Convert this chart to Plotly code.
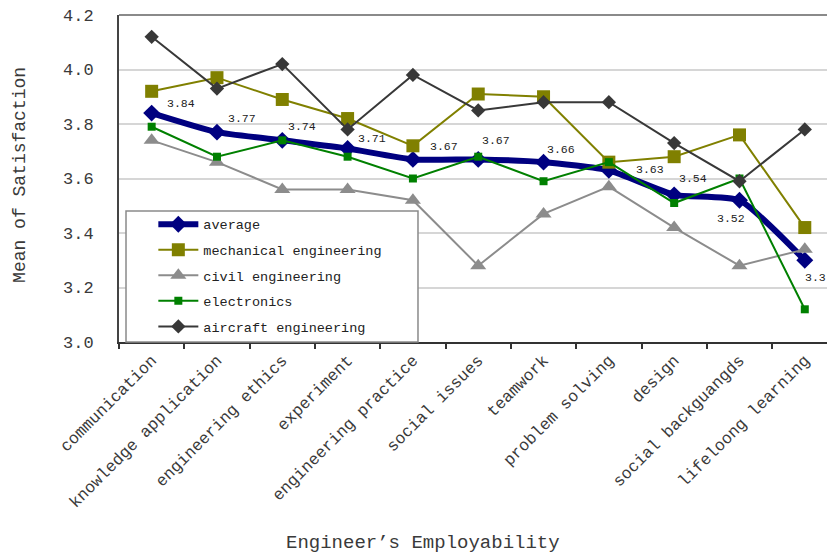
import plotly.graph_objects as go

# Employability attributes on the category axis
skills = [
    "communication", "knowledge application", "engineering ethics",
    "experiment", "engineering practice", "social issues", "teamwork",
    "problem solving", "design", "social backguangds", "lifeloong learning",
]

# Mean satisfaction per discipline
average = [3.84, 3.77, 3.74, 3.71, 3.67, 3.67, 3.66, 3.63, 3.54, 3.52, 3.3]
mechanical = [3.92, 3.97, 3.89, 3.82, 3.72, 3.91, 3.90, 3.66, 3.68, 3.76, 3.42]
civil = [3.74, 3.66, 3.56, 3.56, 3.52, 3.28, 3.47, 3.57, 3.42, 3.28, 3.34]
electronics = [3.79, 3.68, 3.74, 3.68, 3.60, 3.68, 3.59, 3.66, 3.51, 3.60, 3.12]
aircraft = [4.12, 3.93, 4.02, 3.78, 3.98, 3.85, 3.88, 3.88, 3.73, 3.59, 3.78]

y_ticks = [3.0, 3.2, 3.4, 3.6, 3.8, 4.0, 4.2]

MONO = "Liberation Mono, Courier New, monospace"
TEXT = "#3a3a3a"

fig = go.Figure()

fig.add_trace(go.Scatter(
    x=skills, y=average, name="average", mode="lines+markers",
    line=dict(color="#000080", width=6, shape="spline", smoothing=0.5),
    marker=dict(symbol="diamond", size=13, color="#000080"),
    legendgroup="a",
))
fig.add_trace(go.Scatter(
    x=skills, y=mechanical, name="mechanical engineering", mode="lines+markers",
    line=dict(color="#808000", width=2),
    marker=dict(symbol="square", size=13, color="#808000"),
    legendgroup="b",
))
fig.add_trace(go.Scatter(
    x=skills, y=civil, name="civil engineering", mode="lines+markers",
    line=dict(color="#8c8c8c", width=2),
    marker=dict(symbol="triangle-up", size=14, color="#8c8c8c"),
    legendgroup="c",
))
fig.add_trace(go.Scatter(
    x=skills, y=electronics, name="electronics", mode="lines+markers",
    line=dict(color="#008000", width=2),
    marker=dict(symbol="square", size=8, color="#008000"),
    legendgroup="d",
))
fig.add_trace(go.Scatter(
    x=skills, y=aircraft, name="aircraft engineering", mode="lines+markers",
    line=dict(color="#383838", width=2),
    marker=dict(symbol="diamond", size=11, color="#383838"),
    legendgroup="e",
))

# Value labels for the average series (pixel nudges per point)
label_shift = [(29, 10), (25, 14), (20, 14), (24, 10), (31, 13), (18, 19),
               (17, 13), (41, 1), (19, 16), (-8, -18), (11, -17)]
for name, val, (dx, dy) in zip(skills, average, label_shift):
    fig.add_annotation(
        x=name, y=val, text=f"{val:g}", showarrow=False,
        xshift=dx, yshift=dy, font=dict(family=MONO, size=11.5, color="#222"),
    )

# Axis titles
fig.add_annotation(
    xref="paper", yref="paper", x=-0.1398, y=0.511, text="Mean of Satisfaction",
    xanchor="center", yanchor="middle",
    textangle=-90, showarrow=False, font=dict(family=MONO, size=18, color=TEXT),
)
fig.add_annotation(
    xref="paper", yref="paper", x=0.4287, y=-0.6147, text="Engineer’s Employability",
    xanchor="center", yanchor="middle",
    showarrow=False, font=dict(family=MONO, size=19, color=TEXT),
)

# White legend panel
fig.add_shape(
    type="rect", xref="paper", yref="paper", x0=0.0099, x1=0.4223, y0=0, y1=0.4006,
    fillcolor="white", line=dict(color="#8a8a8a", width=1.5), layer="above",
)

fig.update_layout(
    width=827, height=558,
    margin=dict(l=119, r=0, t=15, b=216),
    paper_bgcolor="white", plot_bgcolor="white",
    showlegend=True,
    legend=dict(
        x=0.0485, y=0.407, xanchor="left", yanchor="top",
        bgcolor="rgba(0,0,0,0)", borderwidth=0,
        font=dict(family=MONO, size=13.5, color="#222"),
        tracegroupgap=5, itemwidth=40,
    ),
    xaxis=dict(
        type="category", range=[-0.5, 10.34],
        tickangle=-45, tickson="boundaries", ticks="outside", ticklen=5,
        tickcolor="#333", tickwidth=1.5,
        showline=True, linecolor="#333", linewidth=2, mirror=False,
        showgrid=False,
        tickfont=dict(family=MONO, size=16.5, color=TEXT),
    ),
    yaxis=dict(
        range=[3.0, 4.2], tickvals=y_ticks, ticktext=[f"{v:.1f}" for v in y_ticks],
        showgrid=True, gridcolor="#d6d6d6", gridwidth=2,
        showline=True, linecolor="#444", linewidth=2,
        ticks="", ticklabelstandoff=20, zeroline=False,
        tickfont=dict(family=MONO, size=17, color=TEXT),
    ),
)

# Top frame line
fig.add_shape(
    type="line", xref="paper", yref="paper", x0=0, x1=1, y0=1, y1=1,
    line=dict(color="#8a8a8a", width=2), layer="above",
)

fig.write_html("out.html")
